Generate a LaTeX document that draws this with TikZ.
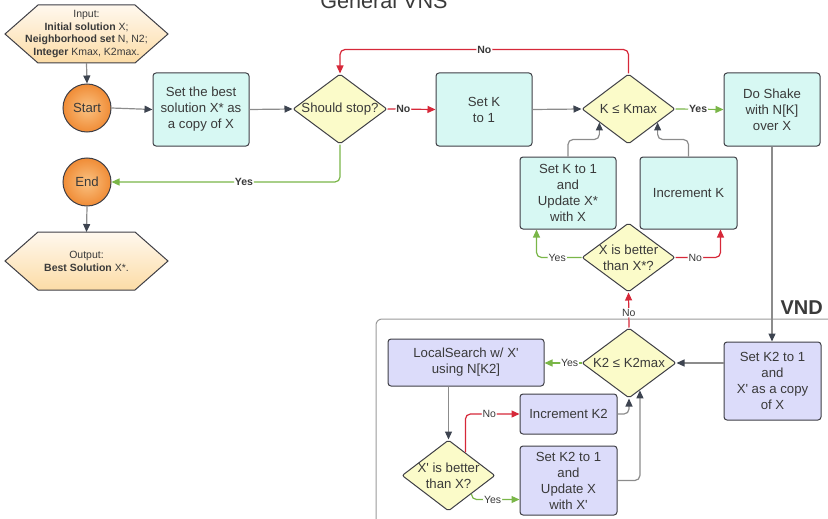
\documentclass[tikz,border=0pt]{standalone}
\usepackage{fontspec}
\setmainfont{Liberation Sans}
\usetikzlibrary{shapes.geometric,arrows.meta,calc,backgrounds}

\definecolor{ink}{HTML}{3A3A3A}
\definecolor{bd}{HTML}{3F3F46}
\definecolor{cyanF}{HTML}{D7F8F3}
\definecolor{lavF}{HTML}{DCDCFA}
\definecolor{yelF}{HTML}{FBFBC9}
\definecolor{orIn}{HTML}{FAC282}
\definecolor{orOut}{HTML}{F08C36}
\definecolor{hexTop}{HTML}{FFF8EE}
\definecolor{hexBot}{HTML}{FCDCA6}
\definecolor{lineG}{HTML}{8C8C8C}
\definecolor{tipG}{HTML}{3D4450}
\definecolor{redC}{HTML}{D62839}
\definecolor{grnC}{HTML}{7AB648}
\definecolor{frameC}{HTML}{9A9A9A}

\newcommand\mainfs{\fontsize{13.2}{16}\selectfont}
\newcommand\smallfs{\fontsize{10.5}{12.8}\selectfont}
\newcommand\labfs{\fontsize{10.5}{12}\selectfont}
\newcommand\qs{\textquotesingle}

\tikzset{
  box/.style={draw=bd, line width=1pt, rounded corners=3pt, inner sep=2pt,
    align=center, font=\mainfs, text=ink},
  vbox/.style={box, fill=cyanF},
  dbox/.style={box, fill=lavF},
  dia/.style={diamond, draw=bd, line width=1pt, fill=yelF, inner sep=0pt,
    rounded corners=2pt},
  diatext/.style={align=center, font=\mainfs, text=ink, inner sep=0pt},
  term/.style={circle, draw=bd, line width=1pt, minimum size=48pt, inner sep=0pt,
    inner color=orIn, outer color=orOut, font=\mainfs, text=ink},
  hexnode/.style={rectangle, inner sep=0pt, outer sep=0pt, align=center,
    font=\smallfs, text=ink},
  hexa/.style={draw=bd, line width=1pt, top color=hexTop, bottom color=hexBot},
  conn/.style={line width=1.2pt, rounded corners=5pt},
  gc/.style={conn, draw=lineG, -{Triangle[length=8pt,width=7pt,color=tipG]}},
  rc/.style={conn, draw=redC, -{Triangle[length=8pt,width=7pt]}},
  yc/.style={conn, draw=grnC, -{Triangle[length=8pt,width=7pt]}},
  lab/.style={fill=white, inner sep=1pt, font=\labfs, text=ink},
  blab/.style={lab, font=\labfs\bfseries},
  frame/.style={draw=frameC, line width=1pt, rounded corners=6pt},
}

\begin{document}
\begin{tikzpicture}[x=1pt,y=-1pt]
\useasboundingbox (0,0) rectangle (828,519);

% titles
\node[font=\fontsize{21.6}{24}\selectfont, text=ink, anchor=base] (title) at (384,9) {General VNS};
\node[font=\fontsize{20}{22}\selectfont\bfseries, text=ink, anchor=base east, inner sep=0pt] (vnd) at (823,314) {VND};

% VND frame
\draw[frame] (376,540) -- (376,319) -- (850,319);

% terminals and data
\node[hexnode, minimum width=163pt, minimum height=58pt] (input) at (86.5,34)
  {Input:\\\textbf{Initial solution} X;\\\textbf{Neighborhood set} N, N2;\\\textbf{Integer} Kmax, K2max.};
\node[hexnode, minimum width=163pt, minimum height=58pt] (output) at (86.5,261)
  {Output:\\\textbf{Best Solution} X*.};
\begin{scope}[on background layer]
  \foreach \h in {input,output}{
    \shadedraw[hexa] (\h.west) -- ($(\h.north west)+(33,0)$) -- ($(\h.north east)+(-33,0)$)
      -- (\h.east) -- ($(\h.south east)+(-33,0)$) -- ($(\h.south west)+(33,0)$) -- cycle;
  }
\end{scope}
\node[term] (start) at (87,108) {Start};
\node[term] (endn) at (87,182) {End};

% general VNS
\node[vbox, minimum width=96pt, minimum height=73pt] (best) at (201,109.5)
  {Set the best\\solution X* as\\a copy of X};
\node[dia, minimum width=94pt, minimum height=70pt,
  label={[diatext]center:Should stop?}] (stop) at (340,109) {};
\node[vbox, minimum width=96pt, minimum height=73pt] (setk) at (484,109.5) {Set K\\to 1};
\node[dia, minimum width=93pt, minimum height=70pt,
  label={[diatext]center:K ≤ Kmax}] (kk) at (628.5,109) {};
\node[vbox, minimum width=96pt, minimum height=73pt] (shake) at (772,109.5)
  {Do Shake\\with N[K]\\over X};
\node[vbox, minimum width=96pt, minimum height=72pt] (upd) at (568,193)
  {Set K to 1\\and\\Update X*\\with X};
\node[vbox, minimum width=97pt, minimum height=72pt] (inck) at (688.5,193) {Increment K};
\node[dia, minimum width=93pt, minimum height=69pt,
  label={[diatext]center:{X is better\\than X*?}}] (better) at (628.5,257.5) {};

% VND
\node[dbox, minimum width=97pt, minimum height=78pt] (sk2) at (772.5,381)
  {Set K2 to 1\\and\\X\qs{} as a copy\\of X};
\node[dia, minimum width=94pt, minimum height=70pt,
  label={[diatext]center:K2 ≤ K2max}] (k2) at (629,363) {};
\node[dbox, minimum width=156pt, minimum height=47pt] (ls) at (466,362.5)
  {LocalSearch w/ X\qs\\using N[K2]};
\node[dia, minimum width=93pt, minimum height=71pt,
  label={[diatext]center:{X\qs{} is better\\than X?}}] (xb) at (448.5,475.5) {};
\node[dbox, minimum width=97pt, minimum height=40pt] (inck2) at (568.5,414) {Increment K2};
\node[dbox, minimum width=97pt, minimum height=69pt] (upx) at (568.5,480.5)
  {Set K2 to 1\\and\\Update X\\with X\qs};

% connectors of the main loop
\draw[gc] (input.south) -- (start.north);
\draw[gc] (start.east) -- (best.west);
\draw[gc] (best.east) -- (stop.west);
\draw[rc] (stop.east) -- node[blab, pos=0.33]{No} (setk.west);
\draw[gc] (setk.east) -- (kk.west);
\draw[rc] (kk.north) |- node[blab, pos=0.75]{No} ($(stop.north)+(0,-24)$) -- (stop.north);
\draw[yc] (kk.east) -- node[blab, pos=0.47]{Yes} (shake.west);
\draw[yc] (stop.south) |- node[blab, pos=0.71]{Yes} (endn.east);
\draw[gc] (endn.south) -- (output.north);
\draw[gc] (shake.south) -- (shake.south |- sk2.north);
\draw[yc] (better.west) -| node[lab, pos=0.27]{Yes} ($(upd.south west)+(17,0)$);
\draw[rc] (better.east) -| node[lab, pos=0.22]{No} ($(inck.south east)+(-17,0)$);
\draw[gc] (upd.north) -- ++(0,-17) -| ($(kk.south)!0.62!(kk.west)$);
\draw[gc] (inck.north) -- ++(0,-17) -| ($(kk.south)!0.62!(kk.east)$);

% connectors of VND
\draw[gc] (sk2.west |- k2.east) -- (k2.east);
\draw[rc] (k2.north) -- node[lab, pos=0.42]{No} (better.south);
\draw[yc] (k2.west) -- node[lab, pos=0.32]{Yes} (k2.west -| ls.east);
\draw[gc] (ls.south -| xb.north) -- (xb.north);
\draw[rc] ($(xb.north)!0.36!(xb.east)$) |- node[lab, pos=0.72]{No} (inck2.west);
\draw[yc] ($(xb.east)!0.51!(xb.south)$) |- node[lab, pos=0.72]{Yes} ($(upx.south west)+(0,-16)$);
\draw[gc] (inck2.east) -| (k2.south);
\draw[gc] (upx.east) -| ($(k2.south)!0.23!(k2.east)$);
\end{tikzpicture}
\end{document}
